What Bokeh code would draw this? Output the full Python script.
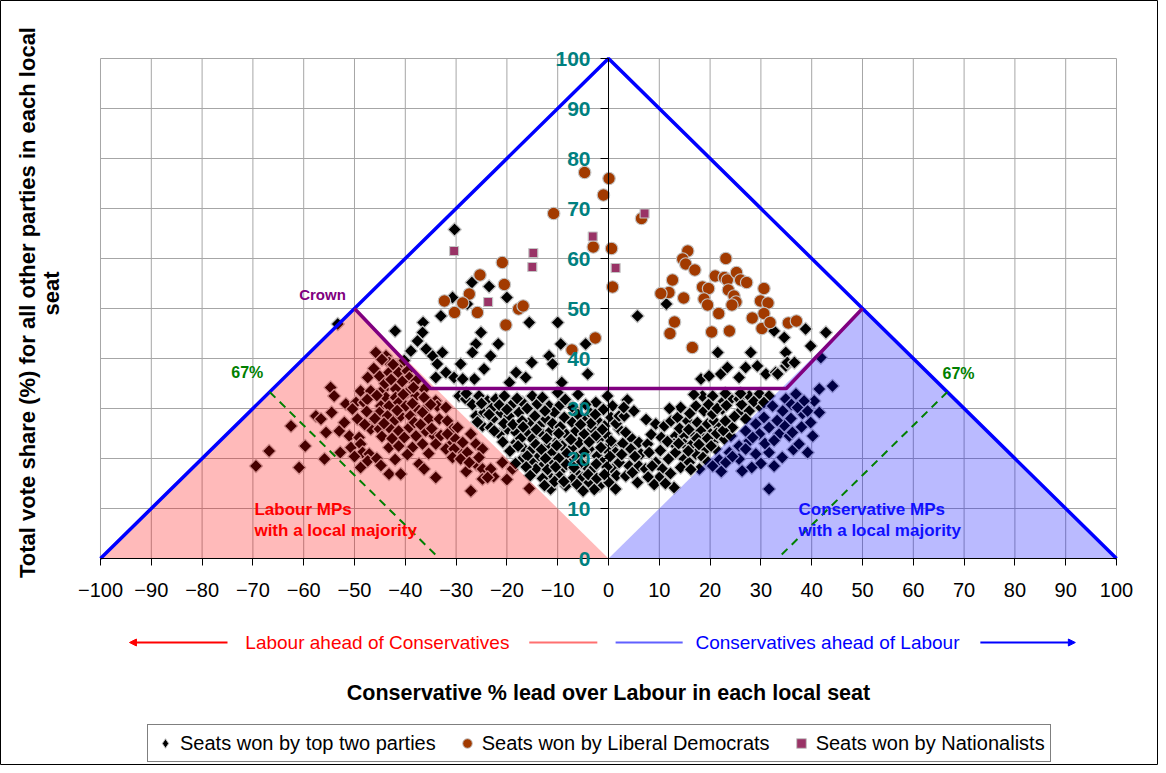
import math
from bokeh.plotting import figure
from bokeh.models import Range1d, FixedTicker, Arrow, NormalHead, Legend, LegendItem
from bokeh.core.properties import value
from bokeh.embed import file_html
from bokeh.resources import INLINE

# ---------------- data ----------------
x_ticks = list(range(-100, 101, 10))
y_ticks = list(range(0, 101, 10))

# seats won by top two parties: (Conservative lead over Labour, others' share)
two_party = [
    (-53.3, 46.9),
    (-45.8, 41.2), (-43.8, 40.5), (-43.2, 39.2), (-41.5, 38.5), (-47.4, 36.2), (-45.1, 36.5), (-43.2, 37.2),
    (-41.3, 37.2), (-39.6, 37.5), (-39.2, 36.2), (-37.9, 35.5), (-36.3, 33.9),
    (-54.7, 34.2), (-54.0, 32.5), (-48.8, 33.5), (-46.8, 33.5), (-44.2, 33.9), (-41.9, 33.9), (-43.8, 32.2),
    (-41.9, 32.2), (-39.6, 33.2), (-37.9, 32.5), (-36.3, 32.2), (-34.0, 31.5),
    (-51.7, 30.9), (-49.7, 31.2), (-48.1, 31.2), (-44.8, 30.5), (-43.2, 30.5), (-41.3, 31.2), (-39.9, 30.5),
    (-37.6, 29.9), (-36.0, 29.9), (-33.7, 30.5),
    (-57.6, 28.5), (-56.6, 27.9), (-54.5, 29.2), (-50.4, 29.9), (-49.4, 27.9), (-46.8, 26.5), (-45.1, 29.2),
    (-43.5, 28.5), (-42.2, 27.5), (-40.9, 28.5), (-39.0, 28.5), (-36.6, 29.2), (-35.3, 27.9),
    (-62.5, 26.5), (-55.6, 25.2), (-53.0, 25.5), (-51.0, 24.5), (-49.1, 24.2), (-46.8, 25.9), (-45.1, 25.9),
    (-43.2, 26.2), (-41.3, 25.5), (-39.2, 26.2), (-37.9, 24.5), (-36.0, 25.5), (-34.3, 24.5),
    (-66.8, 21.5), (-59.7, 22.5), (-50.7, 22.2), (-48.8, 22.9), (-48.4, 21.2), (-47.1, 20.9), (-43.2, 22.2),
    (-41.3, 22.5), (-38.6, 22.2), (-36.6, 22.9), (-34.0, 22.9),
    (-69.4, 18.5), (-60.9, 18.2), (-55.9, 19.9), (-47.4, 19.5), (-48.8, 18.2), (-43.2, 16.9), (-40.9, 16.9),
    (-37.3, 18.9), (-36.3, 17.9), (-34.0, 16.2),
    (-44.6, 39.8), (-42.4, 38.8), (-40.2, 39.6), (-46.2, 38.0), (-44.0, 35.0), (-40.6, 35.4), (-38.4, 34.2),
    (-42.8, 35.8), (-45.6, 32.6), (-47.5, 31.8), (-40.4, 32.8), (-38.6, 31.0), (-35.0, 30.8), (-47.6, 29.4),
    (-46.0, 28.0), (-44.2, 27.0), (-41.6, 29.6), (-38.2, 27.2), (-37.0, 26.8), (-34.8, 26.0), (-52.0, 27.2),
    (-48.0, 26.8), (-44.6, 24.4), (-42.6, 24.0), (-40.2, 24.2), (-39.6, 20.8), (-35.4, 21.0), (-33.0, 24.6),
    (-31.2, 22.6), (-29.0, 21.6), (-28.0, 17.4), (-26.0, 18.8), (-22.6, 16.4), (-20.0, 15.8), (-45.6, 20.0),
    (-44.8, 18.6), (-50.0, 20.4), (-52.8, 21.2), (-42.0, 19.8),
    (-32.0, 30.2), (-33.3, 27.9), (-31.7, 27.5), (-30.7, 25.9), (-29.7, 26.2), (-31.7, 24.9), (-30.1, 23.9),
    (-32.0, 21.9), (-30.4, 21.9), (-28.7, 23.2), (-27.1, 24.9), (-27.8, 21.2), (-26.1, 22.9), (-24.8, 21.9),
    (-25.5, 20.2), (-30.7, 20.2), (-29.1, 19.9), (-27.4, 19.2), (-24.8, 17.9), (-23.2, 17.9), (-20.9, 19.2),
    (-18.9, 17.9), (-27.1, 13.5), (-24.8, 15.9), (-23.8, 16.2), (-15.6, 14.0),
    (-10.0, 33.2),
    (-29.4, 32.5), (-28.1, 31.9), (-25.5, 32.5), (-23.8, 31.5), (-22.2, 31.9), (-20.5, 32.5), (-18.9, 30.9),
    (-16.9, 31.2), (-15.0, 32.5), (-14.0, 30.9), (-11.7, 30.5), (-9.7, 30.5), (-2.5, 31.2), (0.8, 30.5),
    (-26.1, 28.5), (-24.5, 29.2), (-22.8, 27.9), (-21.2, 29.2), (-19.6, 28.5), (-17.6, 29.2), (-15.6, 27.2),
    (-13.6, 26.5), (-12.3, 27.9), (-10.7, 29.2), (-8.7, 28.2), (-7.1, 27.2), (-5.1, 27.9), (-1.8, 27.2), (0.5, 28.2),
    (-24.8, 26.5), (-23.2, 26.2), (-21.5, 24.9), (-19.9, 25.9), (-18.2, 25.2), (-15.9, 25.2), (-15.0, 23.9),
    (-13.0, 24.9), (-11.4, 25.5), (-10.0, 23.5), (-8.4, 24.9), (-6.4, 25.5), (-4.8, 24.9), (-3.1, 25.9),
    (-1.8, 23.9), (-0.5, 24.9), (1.1, 22.9), (2.1, 25.9),
    (-18.2, 23.2), (-16.6, 21.9), (-15.0, 21.9), (-13.6, 20.5), (-12.0, 22.5), (-11.0, 21.2), (-9.1, 22.5),
    (-7.1, 22.2), (-5.8, 23.2), (-3.8, 21.9), (-2.2, 20.5), (-0.5, 21.9), (1.4, 21.2),
    (-17.0, 19.9), (-15.0, 19.2), (-13.0, 18.5), (-11.0, 19.2), (-9.1, 17.9), (-7.7, 19.2), (-6.4, 17.2),
    (-4.5, 18.5), (-3.1, 17.9), (-1.2, 19.2), (0.8, 17.9), (2.1, 19.2),
    (-14.3, 17.9), (-11.7, 16.5), (-9.7, 16.5), (-7.1, 15.9), (-5.1, 16.2), (-3.8, 15.2), (-1.8, 14.5),
    (0.1, 15.2), (1.4, 13.9), (-11.4, 13.9), (-8.4, 14.5),
    (-28.0, 33.0), (-26.8, 30.8), (-25.0, 31.0), (-23.0, 30.0), (-21.5, 30.7), (-20.0, 29.8), (-18.0, 32.0),
    (-16.0, 30.0), (-13.0, 32.2), (-12.5, 29.5), (-8.5, 31.8), (-7.0, 30.2), (-6.0, 32.8), (-4.5, 30.8),
    (-3.5, 29.0), (-1.0, 29.8), (-0.2, 32.5),
    (-25.8, 27.3), (-23.5, 28.8), (-20.6, 27.0), (-18.8, 26.8), (-17.0, 27.5), (-14.5, 28.5), (-11.0, 27.0),
    (-9.5, 26.3), (-6.0, 28.8), (-3.5, 27.0), (-2.6, 28.8), (-0.8, 26.5), (1.5, 27.0),
    (-22.5, 25.5), (-20.8, 23.3), (-17.3, 24.0), (-16.8, 26.3), (-14.2, 25.8), (-12.2, 24.0), (-9.8, 25.0),
    (-7.4, 23.8), (-5.5, 26.8), (-2.5, 24.5), (-3.8, 23.3), (0.5, 23.5), (-1.2, 25.8),
    (-19.4, 21.5), (-17.8, 22.5), (-16.0, 20.5), (-14.3, 22.8), (-13.2, 21.8), (-10.2, 22.6), (-8.2, 21.0),
    (-6.2, 20.2), (-4.8, 21.3), (-1.5, 22.2), (0.3, 20.4), (-9.8, 20.0), (-12.4, 20.0),
    (-18.3, 19.0), (-16.2, 18.3), (-12.0, 17.8), (-10.4, 18.3), (-8.3, 18.8), (-5.5, 19.1), (-2.4, 18.9),
    (-0.3, 18.3), (1.6, 16.6), (-6.8, 18.2), (-4.0, 16.8), (-2.3, 16.0), (-0.8, 16.8), (-10.6, 15.4),
    (-8.8, 15.4), (-6.2, 14.8), (-13.0, 16.0), (-15.4, 16.6), (-2.8, 13.8), (-5.0, 13.5), (-12.6, 14.6),
    (-30.3, 65.8),
    (-26.9, 55.2), (-23.5, 54.4), (-30.7, 52.2), (-27.8, 50.9), (-20.0, 52.2), (-15.6, 47.2), (-10.0, 47.2),
    (-33.0, 48.5), (-36.5, 47.2), (-42.0, 45.5), (-25.1, 45.2), (-36.6, 45.2), (-37.6, 43.5), (-38.9, 41.5),
    (-35.9, 41.9), (-34.6, 40.5), (-32.7, 41.2), (-33.7, 38.9), (-32.0, 37.2), (-34.0, 36.2), (-26.1, 42.9),
    (-26.8, 41.2), (-23.2, 40.5), (-21.7, 42.9), (-29.1, 38.9), (-26.4, 35.9), (-24.5, 37.9), (-30.4, 36.2),
    (-28.7, 35.9), (-18.2, 37.2), (-16.3, 36.2), (-15.1, 39.2), (-11.7, 40.5), (-11.0, 38.9), (-9.4, 42.9),
    (-4.5, 42.9), (-4.1, 36.9), (-9.2, 35.2), (-19.5, 35.2),
    (18.2, 35.9), (19.8, 36.5), (22.1, 36.9), (23.4, 38.2), (25.7, 36.2), (27.0, 38.2), (29.3, 38.5),
    (31.0, 36.9), (32.9, 37.2), (34.9, 38.5),
    (3.7, 31.7), (2.1, 28.5), (3.1, 28.5), (3.4, 25.2), (4.7, 23.9), (6.0, 23.2), (7.7, 22.9), (4.4, 21.9),
    (6.4, 20.9), (8.0, 21.2), (9.3, 19.2), (10.6, 17.9), (10.0, 16.2), (4.1, 18.5), (6.0, 18.5), (7.3, 17.9),
    (3.4, 16.5), (5.7, 15.2), (4.7, 17.2), (12.9, 14.2),
    (9.3, 26.9), (11.0, 26.5), (12.3, 27.5), (13.6, 28.2), (15.6, 27.5), (17.5, 27.2), (19.5, 26.9),
    (20.8, 27.5), (21.8, 26.2), (23.8, 27.2),
    (13.2, 24.5), (14.9, 24.5), (16.5, 25.2), (18.2, 25.5), (20.1, 24.9), (12.9, 22.9), (14.9, 22.9),
    (16.5, 22.9), (18.8, 23.9), (20.5, 23.2), (22.8, 23.9), (24.1, 24.5),
    (13.2, 21.2), (14.9, 19.9), (17.2, 20.9), (19.2, 21.9), (21.1, 21.9), (15.9, 19.2), (14.2, 18.2), (17.9, 17.9),
    (18.5, 32.5), (20.5, 32.5), (22.4, 31.2), (17.2, 30.5), (18.8, 29.5), (20.5, 28.9), (22.4, 29.9),
    (24.1, 31.9), (25.7, 31.9), (27.7, 32.5), (29.7, 32.9), (31.6, 32.5), (25.7, 29.2), (27.7, 29.5),
    (29.7, 30.5), (27.0, 27.9), (24.4, 26.2),
    (3.0, 30.2), (5.0, 29.5), (7.4, 27.8), (8.4, 24.8), (10.4, 24.2), (11.6, 23.4), (10.2, 21.6), (11.8, 19.9),
    (12.2, 17.0), (8.6, 18.5), (5.2, 20.4), (2.8, 23.0), (2.6, 20.8), (7.8, 16.3), (9.0, 14.8), (11.2, 15.0),
    (14.0, 26.0), (15.8, 25.8), (17.4, 24.0), (19.5, 24.0), (21.3, 25.0), (22.6, 25.6), (23.0, 27.5),
    (13.8, 23.0), (15.7, 21.5), (17.8, 22.8), (20.2, 22.5), (16.2, 17.8), (18.6, 20.2), (19.6, 19.3),
    (14.2, 30.2), (16.0, 29.0), (19.7, 30.8), (21.4, 30.0), (23.2, 30.6), (24.8, 28.4), (26.2, 30.8),
    (26.0, 33.0), (23.0, 33.0), (28.6, 31.4), (30.6, 31.2), (16.8, 32.8), (12.0, 30.0),
    (32.3, 30.5), (34.3, 29.5), (30.6, 28.2), (29.0, 26.9), (31.6, 26.2), (33.6, 24.9), (35.6, 24.5),
    (27.0, 25.5), (29.7, 24.9), (27.7, 23.5), (25.7, 22.5), (27.0, 21.9), (29.0, 20.9), (25.7, 19.9),
    (23.8, 21.2), (21.8, 19.7), (23.1, 19.2), (20.5, 18.5), (31.6, 21.2), (32.6, 18.5), (31.6, 13.9), (34.9, 31.9),
    (28.4, 24.2), (30.8, 23.0), (32.6, 23.6), (34.6, 26.6), (35.9, 28.0), (33.2, 27.6), (30.0, 19.0),
    (28.2, 18.2), (34.2, 20.2), (36.4, 21.8), (38.0, 26.3), (38.2, 29.0), (36.0, 30.8), (24.4, 20.4),
    (22.2, 17.4), (26.3, 17.5),
    (38.8, 45.9), (42.8, 45.2), (34.6, 44.2), (39.8, 42.5), (34.9, 41.2), (35.2, 39.2), (36.6, 39.2), (33.3, 36.9),
    (41.8, 40.2), (44.1, 34.5), (41.5, 33.9), (36.9, 32.9), (40.5, 31.5), (38.5, 31.5), (37.2, 30.2),
    (39.2, 29.5), (41.5, 29.2), (39.8, 27.2), (36.2, 25.2), (40.2, 24.5), (37.5, 22.9), (39.2, 21.2),
    (5.7, 48.5), (11.4, 50.9), (32.6, 45.5), (21.5, 41.2), (28.0, 41.2),
]

lib_dem = [
    (-4.7, 77.2), (0.1, 76.0), (-1.0, 72.7), (-10.8, 69.0), (-3.0, 62.3), (0.6, 62.0), (0.8, 54.3),
    (-2.6, 44.1), (-20.9, 59.2), (-20.5, 54.8), (-25.3, 56.7), (-27.4, 52.9), (-28.7, 51.1), (-32.3, 51.5),
    (-30.3, 49.2), (-25.8, 49.2), (-20.2, 46.7), (-17.7, 49.9), (-16.8, 50.5), (-7.2, 41.7), (6.5, 68.0),
    (15.6, 61.5), (14.6, 59.9), (15.2, 58.9), (17.0, 57.7), (23.1, 60.0), (12.6, 55.7), (11.9, 53.2),
    (10.3, 53.0), (14.8, 52.1), (18.5, 54.3), (19.7, 54.0), (18.8, 51.9), (19.5, 50.7), (21.0, 56.5),
    (22.8, 56.2), (23.4, 55.7), (25.2, 57.2), (26.0, 55.7), (27.2, 55.2), (23.6, 53.7), (24.7, 52.5),
    (25.1, 51.3), (24.3, 50.7), (21.7, 49.0), (30.6, 54.0), (29.9, 51.5), (31.4, 51.1), (30.6, 49.0),
    (28.3, 48.1), (30.2, 46.0), (31.8, 47.2), (35.4, 47.1), (37.0, 47.5), (13.0, 47.3), (12.1, 45.0),
    (20.3, 45.3), (23.8, 45.5), (16.5, 42.2),
]

nationalist = [
    (-30.4, 61.5), (-23.7, 51.3), (-14.8, 61.1), (-15.0, 58.3), (-3.1, 64.4), (1.4, 58.1), (7.1, 69.0),
]

tp_x = [p_[0] for p_ in two_party]
tp_y = [p_[1] for p_ in two_party]
ld_x = [p_[0] for p_ in lib_dem]
ld_y = [p_[1] for p_ in lib_dem]
nat_x = [p_[0] for p_ in nationalist]
nat_y = [p_[1] for p_ in nationalist]

# guide shapes
outer_x, outer_y = [-100, 0, 100], [0, 100, 0]
lab_tri_x, lab_tri_y = [-100, -50, 0], [0, 50, 0]
con_tri_x, con_tri_y = [0, 50, 100], [0, 50, 0]
crown_x, crown_y = [-50, -35, 35, 50], [50, 34, 34, 50]

FONT = "Liberation Sans"
HALO = "#C4C4C4"
NAN = float("nan")

p = figure(width=1158, height=765,
           x_range=Range1d(-119.685, 108.268), y_range=Range1d(-41.4, 111.6),
           output_backend="svg", toolbar_location=None)
p.min_border_left = 0
p.min_border_right = 0
p.min_border_top = 0
p.min_border_bottom = 0
p.background_fill_color = "white"
p.border_fill_color = "white"
p.outline_line_color = "black"
p.outline_line_width = 1
p.grid.visible = False

# grid
p.segment(x0=x_ticks, y0=[0] * len(x_ticks), x1=x_ticks, y1=[100] * len(x_ticks),
          line_color="#A6A6A6", line_width=1)
p.segment(x0=[-100] * len(y_ticks), y0=y_ticks, x1=[100] * len(y_ticks), y1=y_ticks,
          line_color="#A6A6A6", line_width=1)

# points
p.scatter(tp_x, tp_y, marker="square", angle=math.pi / 4, size=9.5,
          fill_color="black", line_color=HALO, line_width=1.2)
p.scatter(ld_x, ld_y, marker="circle", size=12.5,
          fill_color="#A23A00", line_color=HALO, line_width=1.2)
p.scatter(nat_x, nat_y, marker="square", size=9,
          fill_color="#993366", line_color=HALO, line_width=1.2)

# legend swatches (a single non-plotted NaN entry each, used only by the legend)
lg_tp = p.scatter(x=[NAN], y=[NAN], marker="diamond", fill_color="black", line_color=HALO)
lg_ld = p.scatter(x=[NAN], y=[NAN], marker="circle", fill_color="#A23A00", line_color=HALO)
lg_nat = p.scatter(x=[NAN], y=[NAN], marker="square", fill_color="#993366", line_color=HALO)

# translucent majority regions
p.patch(lab_tri_x, lab_tri_y, fill_color="#FF0000", fill_alpha=0.27, line_color=None)
p.patch(con_tri_x, con_tri_y, fill_color="#0000FF", fill_alpha=0.27, line_color=None)

# outlines
p.line(outer_x, outer_y, line_color="#0000FF", line_width=3.5)
p.line(crown_x, crown_y, line_color="#800080", line_width=3.5)
p.segment(x0=[-66.7, 66.7], y0=[33.3, 33.3], x1=[-33.3, 33.3], y1=[0, 0],
          line_color="#008000", line_width=2, line_dash="8 6")

# annotations
p.text(x=[-56.3], y=[52.8], text=["Crown"], text_color="#800080", text_font=value(FONT),
       text_font_style="bold", text_font_size="15px", text_align="center", text_baseline="middle")
p.text(x=[-71.1, 68.9], y=[37.2, 37.0], text=["67%", "67%"], text_color="#008000",
       text_font=value(FONT), text_font_style="bold", text_font_size="16px",
       text_align="center", text_baseline="middle")
p.text(x=[-69.7, -69.7], y=[9.8, 5.6], text=["Labour MPs", "with a local majority"],
       text_color="#FF0000", text_font=value(FONT), text_font_style="bold", text_font_size="17px",
       text_align="left", text_baseline="middle")
p.text(x=[37.4, 37.4], y=[9.8, 5.6], text=["Conservative MPs", "with a local majority"],
       text_color="#1010FF", text_font=value(FONT), text_font_style="bold", text_font_size="17px",
       text_align="left", text_baseline="middle")

# below-axis direction captions
p.text(x=[-45.5], y=[-16.8], text=["Labour ahead of Conservatives"], text_color="#FF0000",
       text_font=value(FONT), text_font_size="19px", text_align="center", text_baseline="middle")
p.text(x=[43.1], y=[-16.8], text=["Conservatives ahead of Labour"], text_color="#0000FF",
       text_font=value(FONT), text_font_size="19px", text_align="center", text_baseline="middle")
p.segment(x0=[-15.6], y0=[-16.8], x1=[-2.2], y1=[-16.8], line_color="#FF7070", line_width=2)
p.segment(x0=[1.4], y0=[-16.8], x1=[14.6], y1=[-16.8], line_color="#6060FF", line_width=2)
p.add_layout(Arrow(end=NormalHead(size=7, fill_color="#FF0000", line_color="#FF0000"),
                   x_start=-75.0, y_start=-16.8, x_end=-94.3, y_end=-16.8,
                   line_color="#FF0000", line_width=2))
p.add_layout(Arrow(end=NormalHead(size=7, fill_color="#0000FF", line_color="#0000FF"),
                   x_start=73.2, y_start=-16.8, x_end=91.9, y_end=-16.8,
                   line_color="#0000FF", line_width=2))

# axis titles
p.text(x=[0], y=[-26.8], text=["Conservative % lead over Labour in each local seat"],
       text_color="black", text_font=value(FONT), text_font_style="bold", text_font_size="21.5px",
       text_align="center", text_baseline="middle")
p.text(x=[-114.4, -109.7], y=[51.2, 53.0],
       text=["Total vote share (%) for all other parties in each local", "seat"],
       angle=math.pi / 2, text_color="black", text_font=value(FONT), text_font_style="bold",
       text_font_size="22px", text_align="center", text_baseline="middle")

# axes placed at the origin
xa = p.xaxis[0]
xa.fixed_location = 0
xa.bounds = (-100, 100)
xa.ticker = FixedTicker(ticks=x_ticks)
xa.axis_line_color = "black"
xa.axis_line_width = 1
xa.major_tick_in = 0
xa.major_tick_out = 7
xa.major_tick_line_color = "black"
xa.minor_tick_line_color = None
xa.major_label_text_font = FONT
xa.major_label_text_font_size = "20px"
xa.major_label_text_color = "black"
xa.major_label_standoff = 17

ya = p.yaxis[0]
ya.fixed_location = 0
ya.bounds = (0, 100)
ya.ticker = FixedTicker(ticks=y_ticks)
ya.axis_line_color = "black"
ya.axis_line_width = 1
ya.major_tick_in = 0
ya.major_tick_out = 8
ya.major_tick_line_color = "black"
ya.minor_tick_line_color = None
ya.major_label_text_font = FONT
ya.major_label_text_font_size = "21px"
ya.major_label_text_font_style = "bold"
ya.major_label_text_color = "#008080"
ya.major_label_standoff = 10

legend = Legend(items=[
    LegendItem(label="Seats won by top two parties", renderers=[lg_tp]),
    LegendItem(label="Seats won by Liberal Democrats", renderers=[lg_ld]),
    LegendItem(label="Seats won by Nationalists", renderers=[lg_nat]),
], orientation="horizontal", location=(147, 3))
legend.label_text_font = FONT
legend.label_text_font_size = "20px"
legend.label_text_color = "black"
legend.glyph_width = 24
legend.glyph_height = 26
legend.label_standoff = 3
legend.spacing = 19
legend.padding = 5
legend.margin = 0
legend.border_line_color = "black"
legend.border_line_width = 1
legend.background_fill_color = "white"
legend.background_fill_alpha = 1
p.add_layout(legend)

open("out.html", "w").write(file_html(p, INLINE))
